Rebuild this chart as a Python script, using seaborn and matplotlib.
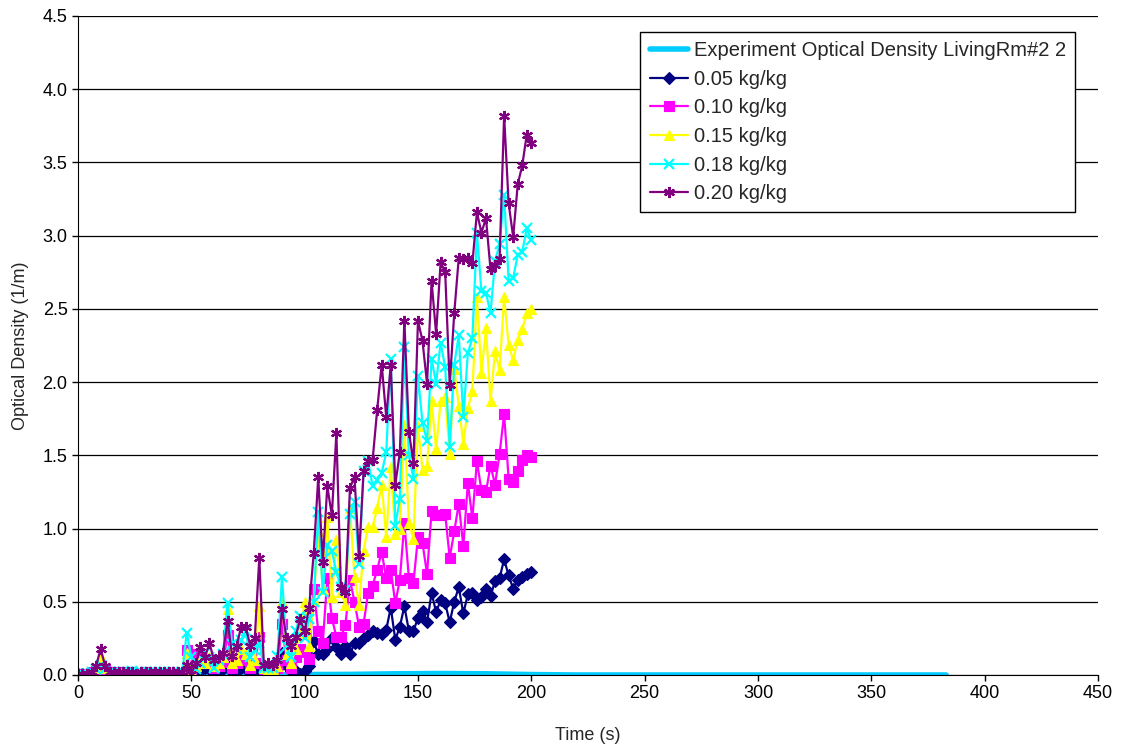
import numpy as np
import pandas as pd
import matplotlib
matplotlib.use('Agg')
import matplotlib.pyplot as plt
import seaborn as sns

# simulated series share one time base (every 2 s, 0..200)
sim_time = list(range(0, 201, 2))

od_005 = [0.01, 0.01, 0.01, 0.01, 0.02, 0.04, 0.02, 0.01, 0.01, 0.01,
          0.01, 0.01, 0.01, 0.01, 0.01, 0.01, 0.01, 0.01, 0.01, 0.01,
          0.01, 0.01, 0.01, 0.01, 0.03, 0.01, 0.02, 0.03, 0.05, 0.04,
          0.02, 0.03, 0.04, 0.06, 0.02, 0.03, 0.05, 0.04, 0.02, 0.03,
          0.05, 0.02, 0.01, 0.02, 0.04, 0.15, 0.06, 0.03, 0.03, 0.01,
          0.03, 0.06, 0.23, 0.14, 0.14, 0.18, 0.25, 0.19, 0.14, 0.20,
          0.14, 0.22, 0.22, 0.25, 0.27, 0.30, 0.29, 0.28, 0.31, 0.46,
          0.24, 0.33, 0.47, 0.30, 0.30, 0.39, 0.44, 0.36, 0.56, 0.43,
          0.51, 0.49, 0.36, 0.50, 0.60, 0.42, 0.55, 0.56, 0.51, 0.53,
          0.59, 0.54, 0.64, 0.66, 0.79, 0.68, 0.59, 0.65, 0.67, 0.69,
          0.70]

od_010 = [0.01, 0.01, 0.01, 0.02, 0.03, 0.06, 0.04, 0.02, 0.02, 0.02,
          0.02, 0.01, 0.02, 0.01, 0.01, 0.02, 0.01, 0.01, 0.01, 0.01,
          0.01, 0.01, 0.01, 0.01, 0.17, 0.04, 0.14, 0.08, 0.10, 0.08,
          0.05, 0.06, 0.09, 0.27, 0.05, 0.08, 0.12, 0.10, 0.05, 0.08,
          0.26, 0.04, 0.03, 0.02, 0.05, 0.35, 0.10, 0.05, 0.12, 0.18,
          0.16, 0.11, 0.59, 0.30, 0.22, 0.66, 0.39, 0.26, 0.26, 0.34,
          0.65, 0.50, 0.33, 0.35, 0.56, 0.61, 0.72, 0.84, 0.66, 0.72,
          0.49, 0.65, 1.04, 0.66, 0.63, 0.94, 0.90, 0.69, 1.12, 1.09,
          1.09, 1.10, 0.80, 0.98, 1.17, 0.88, 1.31, 1.07, 1.46, 1.26,
          1.25, 1.43, 1.30, 1.51, 1.78, 1.34, 1.32, 1.39, 1.47, 1.50,
          1.49]

od_015 = [0.01, 0.01, 0.01, 0.02, 0.05, 0.12, 0.05, 0.02, 0.02, 0.02,
          0.02, 0.02, 0.02, 0.01, 0.02, 0.02, 0.02, 0.02, 0.01, 0.01,
          0.01, 0.02, 0.01, 0.02, 0.15, 0.03, 0.06, 0.10, 0.08, 0.12,
          0.06, 0.08, 0.12, 0.45, 0.08, 0.10, 0.18, 0.14, 0.07, 0.10,
          0.47, 0.05, 0.04, 0.04, 0.06, 0.50, 0.14, 0.08, 0.18, 0.28,
          0.50, 0.20, 0.51, 0.98, 0.59, 1.08, 0.53, 0.92, 0.57, 0.48,
          1.14, 0.67, 0.48, 0.85, 1.01, 1.01, 1.14, 1.30, 0.94, 1.42,
          0.96, 1.00, 1.71, 1.04, 0.93, 1.70, 1.40, 1.43, 1.87, 1.54,
          1.87, 1.90, 1.51, 2.09, 1.84, 1.58, 1.82, 1.94, 2.58, 2.06,
          2.37, 1.87, 2.21, 2.08, 2.58, 2.25, 2.15, 2.29, 2.36, 2.47,
          2.50]

od_018 = [0.01, 0.01, 0.01, 0.02, 0.04, 0.07, 0.04, 0.02, 0.02, 0.02,
          0.02, 0.02, 0.03, 0.02, 0.02, 0.02, 0.02, 0.02, 0.02, 0.02,
          0.02, 0.02, 0.02, 0.02, 0.29, 0.12, 0.04, 0.08, 0.15, 0.12,
          0.05, 0.10, 0.14, 0.49, 0.21, 0.18, 0.24, 0.30, 0.12, 0.17,
          0.22, 0.05, 0.05, 0.05, 0.13, 0.67, 0.20, 0.12, 0.30, 0.40,
          0.25, 0.38, 0.50, 1.11, 0.57, 0.89, 0.85, 0.70, 0.60, 0.58,
          1.10, 1.18, 0.76, 1.39, 1.46, 1.29, 1.33, 1.38, 1.52, 2.16,
          1.02, 1.20, 2.24, 1.50, 1.34, 2.04, 1.72, 1.60, 2.16, 1.99,
          2.27, 2.10, 1.56, 2.12, 2.32, 1.76, 2.20, 2.30, 3.02, 2.62,
          2.61, 2.47, 2.83, 2.94, 3.28, 2.69, 2.71, 2.87, 2.89, 3.05,
          2.97]

od_020 = [0.01, 0.01, 0.01, 0.02, 0.06, 0.18, 0.06, 0.02, 0.02, 0.02,
          0.02, 0.02, 0.02, 0.01, 0.02, 0.02, 0.02, 0.02, 0.02, 0.02,
          0.02, 0.02, 0.02, 0.02, 0.07, 0.01, 0.08, 0.19, 0.12, 0.22,
          0.10, 0.12, 0.15, 0.37, 0.13, 0.20, 0.33, 0.33, 0.20, 0.25,
          0.80, 0.07, 0.08, 0.07, 0.10, 0.45, 0.25, 0.20, 0.26, 0.38,
          0.30, 0.46, 0.83, 1.35, 0.77, 1.29, 1.09, 1.65, 0.60, 0.57,
          1.28, 1.35, 0.81, 1.39, 1.46, 1.47, 1.81, 2.12, 1.76, 2.12,
          1.30, 1.52, 2.42, 1.66, 1.45, 2.42, 2.28, 1.99, 2.69, 2.33,
          2.82, 2.75, 1.98, 2.47, 2.85, 2.84, 2.85, 2.81, 3.16, 3.02,
          3.12, 2.77, 2.80, 2.84, 3.82, 3.22, 2.99, 3.35, 3.48, 3.69,
          3.63]

# experiment record, stays near zero up to ~383 s
exp_time = [0, 20, 40, 60, 80, 100, 120, 140, 160, 180, 200, 220, 240,
            260, 280, 300, 320, 340, 360, 383]
exp_od = [0.0, 0.0, 0.0, 0.0, 0.0, 0.003, 0.004, 0.008, 0.01, 0.008,
          0.003, 0.0, 0.0, 0.0, 0.0, 0.0, 0.0, 0.0, 0.0, 0.0]

sim_labels = ['0.05 kg/kg', '0.10 kg/kg', '0.15 kg/kg', '0.18 kg/kg', '0.20 kg/kg']
sim_values = [od_005, od_010, od_015, od_018, od_020]
sim_colors = ['#000080', '#FF00FF', '#FFFF00', '#00FFFF', '#800080']
sim_markers = ['D', 's', '^', 'x', (6, 2, 0)]
sim_msizes = [6, 7, 7.5, 7.5, 8]

sns.set_style("white")
plt.rcParams['font.family'] = ['Liberation Sans', 'DejaVu Sans']

fig = plt.figure(figsize=(11.25, 7.47), dpi=100)
ax = fig.add_axes([0.0693, 0.0964, 0.9067, 0.8822])

exp_df = pd.DataFrame({'time': exp_time, 'od': exp_od})
sns.lineplot(x='time', y='od', data=exp_df, ax=ax, color='#00CCFF', linewidth=4,
             marker='s', markersize=3, markeredgewidth=0, sort=False,
             label='Experiment Optical Density LivingRm#2 2')

for lab, vals, col, mk, ms in zip(sim_labels, sim_values, sim_colors, sim_markers, sim_msizes):
    df = pd.DataFrame({'time': sim_time, 'od': vals})
    sns.lineplot(x='time', y='od', data=df, ax=ax, color=col, linewidth=1.6,
                 marker=mk, markersize=ms, markeredgecolor=col,
                 markeredgewidth=1.6 if mk in ('x', (6, 2, 0)) else 0.8,
                 sort=False, label=lab)

ax.set_xlim(0, 450)
ax.set_ylim(0, 4.5)
ax.set_xticks(np.arange(0, 451, 50))
ax.set_yticks(np.arange(0, 4.51, 0.5))
ax.set_yticklabels([f'{v:.1f}' for v in np.arange(0, 4.51, 0.5)])
ax.yaxis.grid(True, color='black', linewidth=0.9)
ax.xaxis.grid(False)
ax.set_axisbelow(True)

ax.spines['top'].set_visible(False)
ax.spines['right'].set_visible(False)
ax.spines['left'].set_color('black')
ax.spines['bottom'].set_color('black')
ax.tick_params(axis='both', direction='out', length=4, width=1, colors='black',
               labelsize=13, bottom=True, left=True)

ax.set_xlabel('Time (s)', fontsize=13, labelpad=18)
ax.set_ylabel('Optical Density (1/m)', fontsize=13, labelpad=10)

leg = ax.legend(loc='upper right', bbox_to_anchor=(0.9775, 0.9757), borderaxespad=0,
                fontsize=14.5, frameon=True, fancybox=False, framealpha=1,
                edgecolor='black', handlelength=1.9, borderpad=0.45,
                labelspacing=0.48, handletextpad=0.3)
leg.get_frame().set_linewidth(1)

fig.savefig('out.png', dpi=100)
